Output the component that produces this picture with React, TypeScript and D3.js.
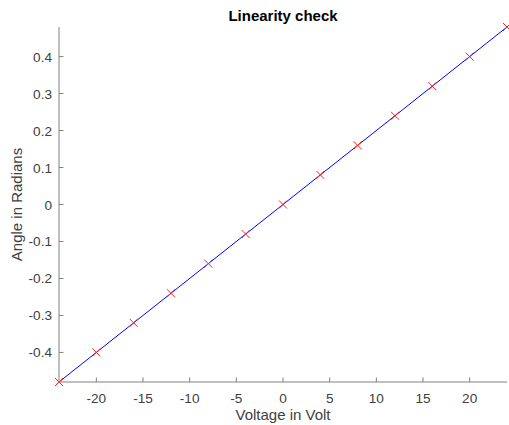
import React from "react";
import * as d3 from "d3";

const voltages = [-24, -20, -16, -12, -8, -4, 0, 4, 8, 12, 16, 20, 24];
const angles = [-0.48, -0.4, -0.32, -0.24, -0.16, -0.08, 0, 0.08, 0.16, 0.24, 0.32, 0.4, 0.48];
const xTicks = [-20, -15, -10, -5, 0, 5, 10, 15, 20];
const yTicks = [-0.4, -0.3, -0.2, -0.1, 0, 0.1, 0.2, 0.3, 0.4];

const W = 509, H = 425;
const L = 59, R = 507, T = 27, B = 382;

export default function App() {
  const x = d3.scaleLinear().domain([-24, 24]).range([L, R]);
  const y = d3.scaleLinear().domain([-0.48, 0.48]).range([B, T]);
  const line = d3.line<number>().x((_, i) => x(voltages[i])).y((d) => y(d));
  const font = "'Liberation Sans', Arial, Helvetica, sans-serif";
  const axisColor = "#808080";
  const textColor = "#404040";
  const ms = 4;
  return (
    <svg width={W} height={H} style={{ position: "absolute", left: 0, top: 0, background: "#fff" }}>
      <rect x={0} y={0} width={W} height={H} fill="#fff" />
      <text x={(L + R) / 2} y={20.5} textAnchor="middle" fontFamily={font} fontWeight="bold" fontSize={15} fill="#000">
        Linearity check
      </text>
      <path d={line(angles) || ""} fill="none" stroke="#0000ff" strokeWidth={1} />
      {voltages.map((v, i) => (
        <g key={i} stroke="#ff2020" strokeWidth={1}>
          <line x1={x(v) - ms} y1={y(angles[i]) - ms} x2={x(v) + ms} y2={y(angles[i]) + ms} />
          <line x1={x(v) - ms} y1={y(angles[i]) + ms} x2={x(v) + ms} y2={y(angles[i]) - ms} />
        </g>
      ))}
      <line x1={L} y1={T} x2={L} y2={B} stroke={axisColor} strokeWidth={1} />
      <line x1={L} y1={B} x2={R} y2={B} stroke={axisColor} strokeWidth={1} />
      {xTicks.map((t) => (
        <g key={"x" + t}>
          <line x1={x(t)} y1={B} x2={x(t)} y2={B - 4.5} stroke={axisColor} strokeWidth={1} />
          <text x={x(t)} y={B + 21} textAnchor="middle" fontFamily={font} fontSize={13.6} fill={textColor}>
            {String(t)}
          </text>
        </g>
      ))}
      {yTicks.map((t) => (
        <g key={"y" + t}>
          <line x1={L} y1={y(t)} x2={L + 4.5} y2={y(t)} stroke={axisColor} strokeWidth={1} />
          <text x={L - 7} y={y(t) + 5} textAnchor="end" fontFamily={font} fontSize={13.6} fill={textColor}>
            {String(+t.toFixed(1))}
          </text>
        </g>
      ))}
      <text x={(L + R) / 2} y={420} textAnchor="middle" fontFamily={font} fontSize={15} fill={textColor}>
        Voltage in Volt
      </text>
      <text transform={`translate(22,${(T + B) / 2}) rotate(-90)`} textAnchor="middle" fontFamily={font} fontSize={15} fill={textColor}>
        Angle in Radians
      </text>
    </svg>
  );
}
